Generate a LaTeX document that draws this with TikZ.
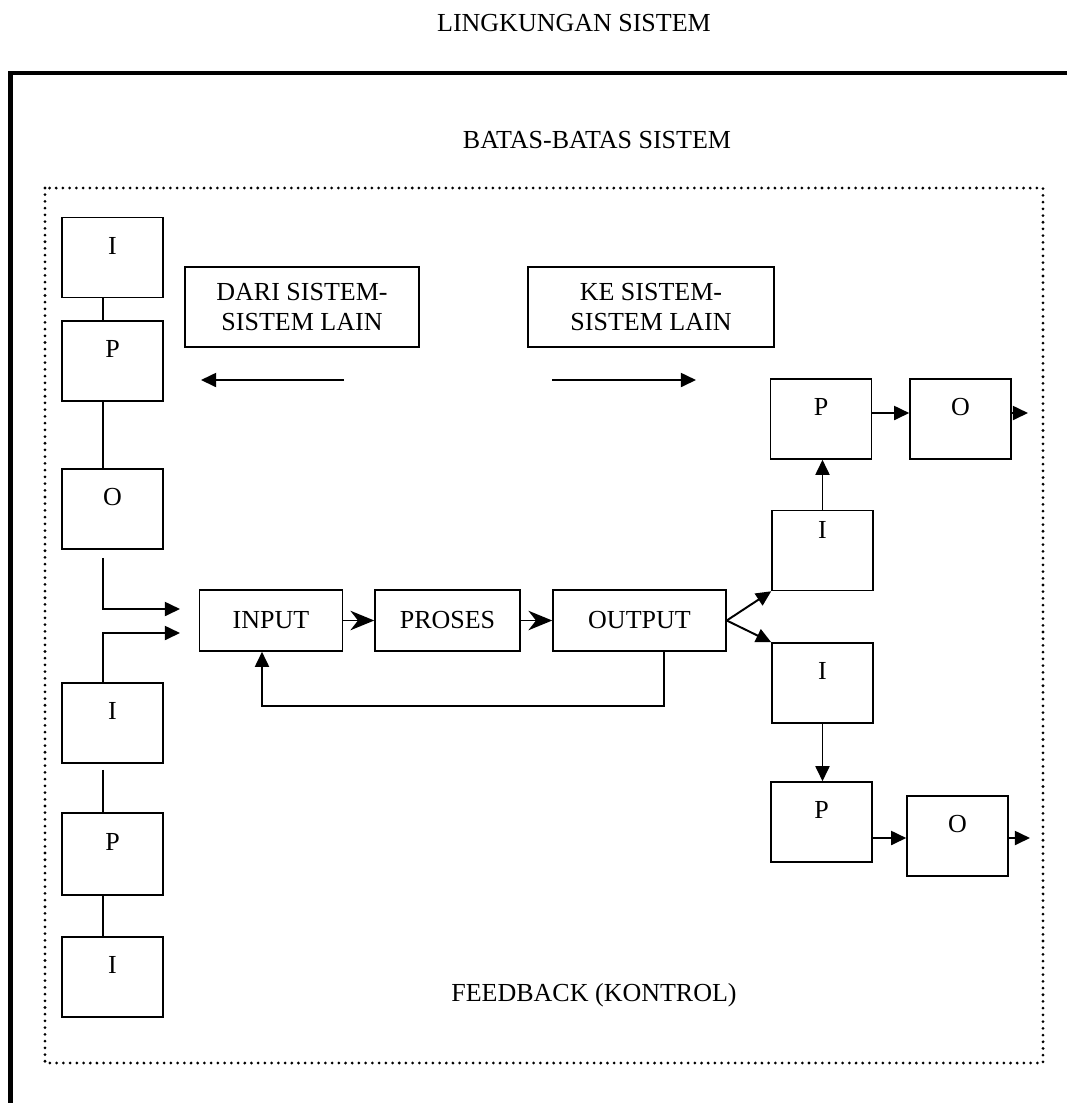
\documentclass[tikz,border=0pt]{standalone}
\usepackage{fontspec}
\setmainfont{Liberation Serif}
\usetikzlibrary{arrows.meta}

\newcommand{\upx}{0.4615pt}

\tikzset{
  sysbox/.style={draw, line width=0.7pt, inner sep=0pt, minimum width=101*\upx, minimum height=80*\upx, text height=8.5pt, text depth=11.5pt},
  flowbox/.style={draw, line width=0.7pt, inner sep=0pt, minimum height=61*\upx, align=center},
  tri/.style={line width=0.9pt, -{Triangle[length=7pt,width=6.5pt]}},
  barb/.style={line width=0.9pt, -{Stealth[length=11pt,width=9pt,inset=3.5pt]}},
  link/.style={line width=0.7pt},
}

\begin{document}
\begin{tikzpicture}[x=\upx, y=-\upx, font=\fontsize{12pt}{14pt}\selectfont]
\useasboundingbox (0,0) rectangle (1067,1103);

% lingkungan dan batas
\draw[line width=1.9pt, line join=miter] (10.5,1103) -- (10.5,73) -- (1067,73);
\draw[line width=1.4pt, line cap=round, dash pattern=on 0pt off 3.1pt] (45,188) rectangle (1043,1063);
\node (env) at (574,23) {LINGKUNGAN SISTEM};
\node (bound) at (597,140) {BATAS-BATAS SISTEM};
\node (fback) at (594,995) {FEEDBACK (KONTROL)};

% sistem lain
\node[flowbox, minimum width=234*\upx, minimum height=80*\upx] (dari) at (302,307) {DARI SISTEM-\\SISTEM LAIN};
\node[flowbox, minimum width=246*\upx, minimum height=80*\upx] (ke) at (651,307) {KE SISTEM-\\SISTEM LAIN};
\coordinate (dariA) at (344,380);
\coordinate (dariB) at (201,380);
\coordinate (keA) at (552,380);
\coordinate (keB) at (696,380);
\draw[tri] (dariA) -- (dariB);
\draw[tri] (keA) -- (keB);

% kolom kiri
\node[sysbox] (li1) at (112.5,257.5) {I};
\node[sysbox] (lp1) at (112.5,361) {P};
\node[sysbox] (lo1) at (112.5,509) {O};
\node[sysbox] (li2) at (112.5,723) {I};
\node[sysbox, minimum height=82*\upx] (lp2) at (112.5,854) {P};
\node[sysbox] (li3) at (112.5,977) {I};
\coordinate (spine) at (103,0);
\draw[link] (li1.south -| spine) -- (lp1.north -| spine);
\draw[link] (lp1.south -| spine) -- (lo1.north -| spine);
\draw[link] ([yshift=-6*\upx]li2.south -| spine) -- (lp2.north -| spine);
\draw[link] (lp2.south -| spine) -- (li3.north -| spine);

% proses utama
\node[flowbox, minimum width=143*\upx] (input) at (271,620.5) {INPUT};
\node[flowbox, minimum width=145*\upx] (proses) at (447.5,620.5) {PROSES};
\node[flowbox, minimum width=173*\upx] (output) at (639.5,620.5) {OUTPUT};
\draw[barb] (input.east) -- (proses.west);
\draw[barb] (proses.east) -- (output.west);

\coordinate (in1) at (180,609);
\coordinate (in2) at (180,633);
\draw[tri] ([yshift=-8*\upx]lo1.south -| spine) |- (in1);
\draw[tri] (li2.north -| spine) |- (in2);

% feedback
\coordinate (fbr) at (664,706);
\coordinate (fbl) at (262,706);
\draw[tri] (output.south -| fbr) -- (fbr) -- (fbl) -- (input.south -| fbl);

% kolom kanan
\node[sysbox] (rp1) at (821,419) {P};
\node[sysbox] (ro1) at (960.5,419) {O};
\node[sysbox, text depth=20pt] (ri1) at (822.5,550.5) {I};
\node[sysbox] (ri2) at (822.5,683) {I};
\node[sysbox] (rp2) at (821.5,822) {P};
\node[sysbox] (ro2) at (957.5,836) {O};
\coordinate (end1) at (1028,413);
\coordinate (end2) at (1030,838);

\draw[tri] (output.east) -- (ri1.south west);
\draw[tri] (output.east) -- (ri2.north west);
\draw[tri] (ri1.north) -- (rp1.south -| ri1.north);
\draw[tri] (rp1.east |- end1) -- (ro1.west |- end1);
\draw[tri] (ro1.east |- end1) -- (end1);
\draw[tri] (ri2.south) -- (rp2.north -| ri2.south);
\draw[tri] (rp2.east |- end2) -- (ro2.west |- end2);
\draw[tri] (ro2.east |- end2) -- (end2);
\end{tikzpicture}
\end{document}
